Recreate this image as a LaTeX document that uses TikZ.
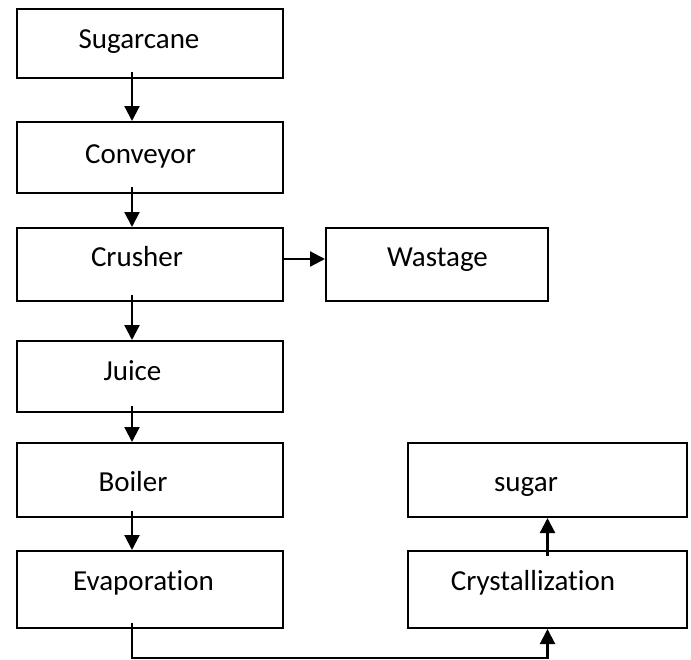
\documentclass[tikz,border=0pt]{standalone}
\usepackage{fontspec}
\setmainfont{Carlito}[Ligatures={NoCommon,NoContextual}]
\usepackage{xcolor}
\usepackage{tikz}
\usetikzlibrary{calc,arrows.meta}
\definecolor{ink}{HTML}{000000}
\tikzset{
  box/.style={draw=ink, line width=2pt, inner sep=0pt, minimum width=266pt},
  wbox/.style={box, minimum width=222pt},
  rbox/.style={box, minimum width=279pt},
  arr/.style={draw=ink, line width=2.2pt, -{Triangle[length=15pt,width=15pt]}},
  lab/.style={text=ink, anchor=base, inner sep=0pt, font=\fontsize{29}{34}\selectfont}
}

\begin{document}
\begin{tikzpicture}[x=1pt,y=1pt]
  \useasboundingbox (0,0) rectangle (691,-659);

  % left column
  \node[box, minimum height=69pt] (sugarcane) at (150,-43.5) {};
  \node[box, minimum height=71pt] (conveyor) at (150,-157.5) {};
  \node[box, minimum height=73pt] (crusher) at (150,-264.5) {};
  \node[box, minimum height=71pt] (juice) at (150,-376.5) {};
  \node[box, minimum height=74pt] (boiler) at (150,-480) {};
  \node[box, minimum height=77pt] (evaporation) at (150,-589.5) {};

  % right side
  \node[wbox, minimum height=73pt] (wastage) at (437,-264.5) {};
  \node[rbox, minimum height=74pt] (sugar) at (547.5,-480) {};
  \node[rbox, minimum height=77pt] (crystal) at (547.5,-589.5) {};

  \node[lab] (sugarcane-t) at (139,-48) {Sugarcane};
  \node[lab] (conveyor-t) at (140.5,-163) {Conveyor};
  \node[lab] (crusher-t) at (137,-266) {Crusher};
  \node[lab] (wastage-t) at (437.5,-266) {Wastage};
  \node[lab] (juice-t) at (132.5,-380) {Juice};
  \node[lab] (boiler-t) at (133,-491) {Boiler};
  \node[lab] (evaporation-t) at (143.5,-590) {Evaporation};
  \node[lab] (sugar-t) at (526,-491) {sugar};
  \node[lab] (crystal-t) at (533,-590) {Crystallization};

  \draw[arr] ([xshift=-18pt,yshift=7pt]sugarcane.south) -- ([xshift=-18pt]conveyor.north);
  \draw[arr] ([xshift=-18pt,yshift=7pt]conveyor.south) -- ([xshift=-18pt]crusher.north);
  \draw[arr] ([xshift=-18pt,yshift=7pt]crusher.south) -- ([xshift=-18pt]juice.north);
  \draw[arr] ([xshift=-18pt,yshift=7pt]juice.south) -- ([xshift=-18pt]boiler.north);
  \draw[arr] ([xshift=-18pt,yshift=7pt]boiler.south) -- ([xshift=-18pt]evaporation.north);
  \draw[arr] ([yshift=5.5pt]crusher.east) -- ([yshift=5.5pt]wastage.west);

  \coordinate (turn) at ([xshift=-18pt,yshift=-29pt]evaporation.south);
  \draw[arr] ([xshift=-18pt,yshift=6pt]evaporation.south) -- (turn) -| (crystal.south);
  \draw[arr] ([yshift=-6pt]crystal.north) -- (sugar.south);
\end{tikzpicture}
\end{document}
